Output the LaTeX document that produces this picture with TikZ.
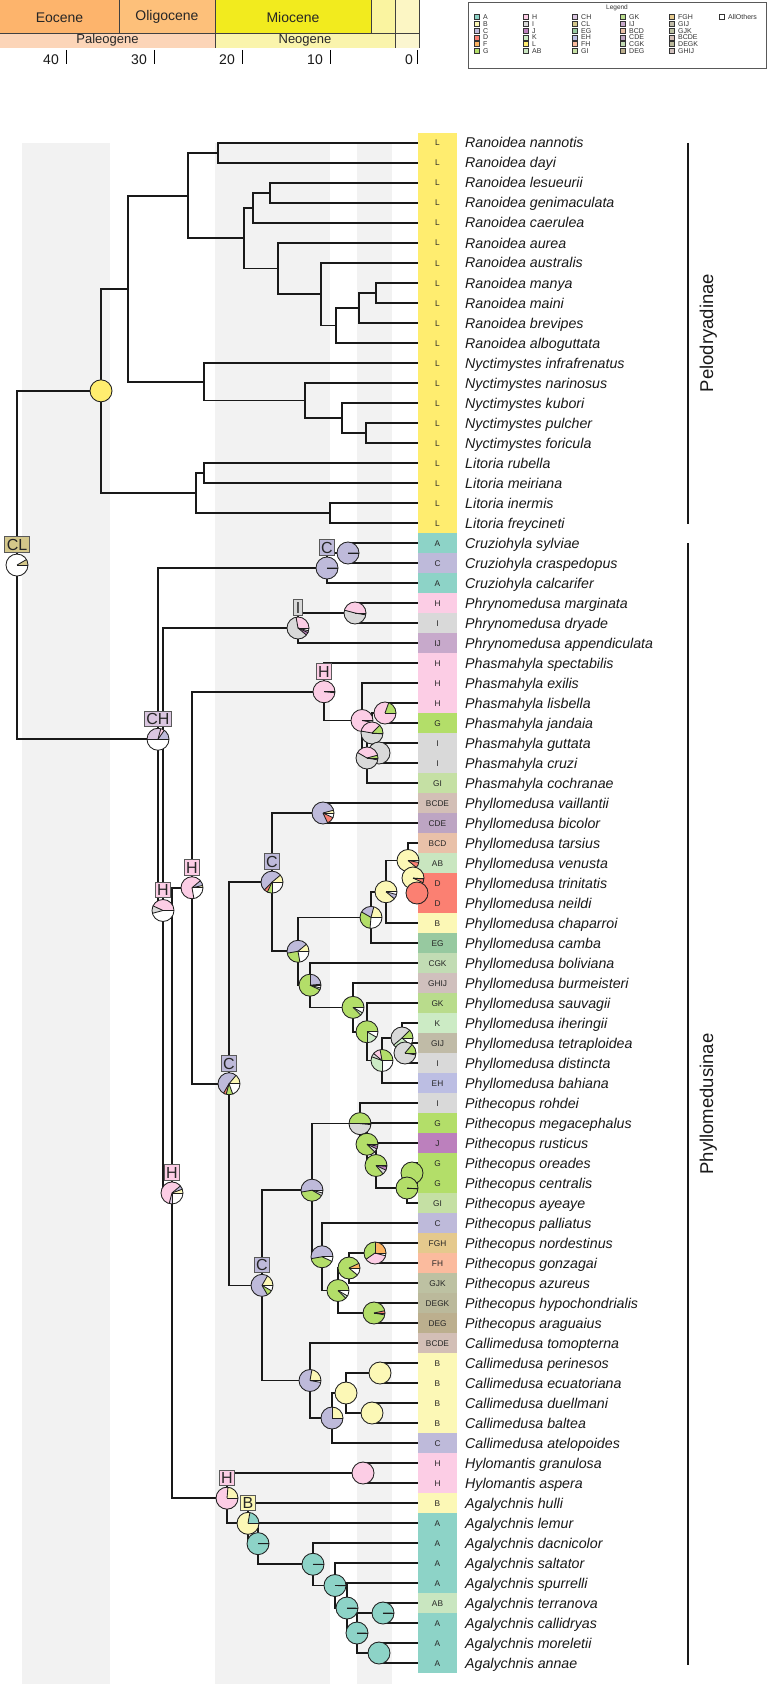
\documentclass[tikz,border=0pt]{standalone}
\usepackage{fontspec}
\setmainfont{Liberation Sans}
\usetikzlibrary{calc}
\definecolor{cA}{HTML}{8DD3C7}
\definecolor{cB}{HTML}{FCF8B6}
\definecolor{cC}{HTML}{BEBADA}
\definecolor{cD}{HTML}{FB8072}
\definecolor{cF}{HTML}{FDB462}
\definecolor{cG}{HTML}{B3DE69}
\definecolor{cH}{HTML}{FCCDE5}
\definecolor{cI}{HTML}{D9D9D9}
\definecolor{cJ}{HTML}{BC80BD}
\definecolor{cK}{HTML}{CCEBC5}
\definecolor{cL}{HTML}{FFED6F}
\definecolor{cAB}{HTML}{C9E6C0}
\definecolor{cCH}{HTML}{DAC6E0}
\definecolor{cCL}{HTML}{D4C78A}
\definecolor{cEG}{HTML}{97C9A0}
\definecolor{cEH}{HTML}{BCBEE3}
\definecolor{cFH}{HTML}{FBBB9E}
\definecolor{cGI}{HTML}{C5E0A4}
\definecolor{cGK}{HTML}{B9DC8C}
\definecolor{cIJ}{HTML}{C7A9CB}
\definecolor{cBCD}{HTML}{E9C1A9}
\definecolor{cCDE}{HTML}{BDA5C3}
\definecolor{cCGK}{HTML}{C2DCB4}
\definecolor{cDEG}{HTML}{BCAF8E}
\definecolor{cFGH}{HTML}{E5C98D}
\definecolor{cGIJ}{HTML}{C0BBA7}
\definecolor{cGJK}{HTML}{BDC1A2}
\definecolor{cBCDE}{HTML}{D3BFB6}
\definecolor{cDEGK}{HTML}{BBB99B}
\definecolor{cGHIJ}{HTML}{D0C0BD}
\colorlet{cAllOthers}{white}
\definecolor{bandgrey}{HTML}{F2F2F2}
\definecolor{cEoc}{HTML}{FDB46C}
\definecolor{cOli}{HTML}{FDC07A}
\definecolor{cMio}{HTML}{F2EB1E}
\definecolor{cPli}{HTML}{FAF4A0}
\definecolor{cPle}{HTML}{FCF6C4}
\definecolor{cPal}{HTML}{FCD5B8}
\definecolor{cNeo}{HTML}{FAF4AC}
\definecolor{cQua}{HTML}{FBF6D0}
\tikzset{
  branch/.style={line width=1.7pt, draw=black!90},
  pieline/.style={line width=0.85pt, draw=black!88},
  lab/.style={draw=black!65, line width=0.8pt, inner sep=2pt, text height=11.5pt, text depth=0pt, font=\fontsize{16}{16}\selectfont, text=black!85},
  tipbox/.style={minimum width=39pt, minimum height=20.3pt, inner sep=0pt, text height=6pt, text depth=0pt, font=\fontsize{8.3}{8}\selectfont, text=black!85},
  spname/.style={anchor=base west, inner sep=0pt, font=\fontsize{14.2}{16}\selectfont\itshape, text=black!90},
  cladebar/.style={line width=1.8pt, draw=black!90},
  cladelab/.style={anchor=base, rotate=90, inner sep=0pt, font=\fontsize{18.5}{20}\selectfont, text=black!90},
  epoch/.style={inner sep=0pt, font=\fontsize{14}{16}\selectfont, text=black!85},
  period/.style={inner sep=0pt, font=\fontsize{13}{15}\selectfont, text=black!85},
  tslab/.style={anchor=base east, inner sep=0pt, font=\fontsize{14}{16}\selectfont, text=black!90},
  tsline/.style={line width=0.8pt, draw=black!75},
  legsq/.style={draw=black!80, line width=0.6pt, minimum size=5pt, inner sep=0pt},
  legtx/.style={anchor=west, inner sep=0pt, font=\fontsize{7}{8}\selectfont, text=black!80},
}
\newif\ifpiemulti
\def\pr{11pt}
\newcommand\mypie[2]{%
  \gdef\pstart{0}%
  \global\piemultifalse
  \foreach \pe/\pc in {#2}{%
    \fill[\pc] (#1) -- ++(\pstart:\pr) arc[start angle=\pstart,end angle=\pe,radius=\pr] -- cycle;
    \xdef\pstart{\pe}%
  }%
  \foreach \pe/\pc in {#2}{%
    \ifdim\pe pt<359.9pt
      \draw[pieline] (#1) -- ++(\pe:\pr);
      \global\piemultitrue
    \fi
  }%
  \ifpiemulti \draw[pieline] (#1) -- ++(0:\pr);\fi
  \draw[pieline] (#1) circle[radius=\pr];
}
\newcommand\mknode[4]{%
  \path let \p1=($(#3)!.5!(#4)$), \p2=(#2,0) in (\x2,\y1) coordinate (#1);
  \draw[branch] (#1) |- (#3);
  \draw[branch] (#1) |- (#4);
}
\begin{document}
\begin{tikzpicture}[x=1pt,y=-1pt]
\useasboundingbox (0,0) rectangle (767,1688);
\fill[white] (0,0) rectangle (767,1688);
% background bands
\fill[bandgrey] (22,143) rectangle (110,1684);
\fill[bandgrey] (215,143) rectangle (330,1684);
\fill[bandgrey] (357,143) rectangle (392,1684);
% timescale
\fill[cEoc] (0,0) rectangle (119,33);
\fill[cOli] (119,0) rectangle (215,33);
\fill[cMio] (215,0) rectangle (371,33);
\fill[cPli] (371,0) rectangle (395,33);
\fill[cPle] (395,0) rectangle (419,33);
\fill[cPal] (0,33) rectangle (215,48);
\fill[cNeo] (215,33) rectangle (395,48);
\fill[cQua] (395,33) rectangle (419,48);
\draw[tsline] (0,33) -- (419,33);
\draw[tsline] (119,0) -- (119,33);
\draw[tsline] (215,0) -- (215,48);
\draw[tsline] (371,0) -- (371,33);
\draw[tsline] (395,0) -- (395,48);
\draw[tsline] (419,0) -- (419,48);
\node[epoch] (eoc) at (59.5,17.5) {Eocene};
\node[epoch] (oli) at (167,16.5) {Oligocene};
\node[epoch] (mio) at (293,17.5) {Miocene};
\node[period] (pal) at (107.5,40.5) {Paleogene};
\node[period] (neo) at (305,40.5) {Neogene};
\foreach \tx/\tl in {66/40,154/30,242/20,330/10} {
  \draw[line width=1pt] (\tx,50) -- (\tx,64);
  \node[tslab] (tl\tl) at (\tx-7,65) {\tl};
}
\draw[line width=1pt] (417,50) -- (417,64);
\node[tslab] (tl0) at (413,65) {0};
% legend
\draw[draw=black!65, line width=0.9pt, fill=white] (468,2) rectangle (766,68);
\node[inner sep=0pt, font=\fontsize{6.5}{7}\selectfont, text=black!80] (legtitle) at (617,7.5) {Legend};
\foreach \lx/\k/\s in {477/0/A,477/1/B,477/2/C,477/3/D,477/4/F,477/5/G,
  526/0/H,526/1/I,526/2/J,526/3/K,526/4/L,526/5/AB,
  575/0/CH,575/1/CL,575/2/EG,575/3/EH,575/4/FH,575/5/GI,
  623/0/GK,623/1/IJ,623/2/BCD,623/3/CDE,623/4/CGK,623/5/DEG,
  672/0/FGH,672/1/GIJ,672/2/GJK,672/3/BCDE,672/4/DEGK,672/5/GHIJ,
  722/0/AllOthers} {
  \node[legsq, fill=c\s] (lq\s) at (\lx,{17.3+6.68*\k}) {};
  \node[legtx] (lt\s) at (\lx+6,{17.3+6.68*\k}) {\s};
}
% tips
\foreach \i/\st/\nm in {1/L/Ranoidea nannotis,2/L/Ranoidea dayi,3/L/Ranoidea lesueurii,4/L/Ranoidea genimaculata,5/L/Ranoidea caerulea,6/L/Ranoidea aurea,7/L/Ranoidea australis,8/L/Ranoidea manya,9/L/Ranoidea maini,10/L/Ranoidea brevipes,11/L/Ranoidea alboguttata,12/L/Nyctimystes infrafrenatus,13/L/Nyctimystes narinosus,14/L/Nyctimystes kubori,15/L/Nyctimystes pulcher,16/L/Nyctimystes foricula,17/L/Litoria rubella,18/L/Litoria meiriana,19/L/Litoria inermis,20/L/Litoria freycineti,21/A/Cruziohyla sylviae,22/C/Cruziohyla craspedopus,23/A/Cruziohyla calcarifer,24/H/Phrynomedusa marginata,25/I/Phrynomedusa dryade,26/IJ/Phrynomedusa appendiculata,27/H/Phasmahyla spectabilis,28/H/Phasmahyla exilis,29/H/Phasmahyla lisbella,30/G/Phasmahyla jandaia,31/I/Phasmahyla guttata,32/I/Phasmahyla cruzi,33/GI/Phasmahyla cochranae,34/BCDE/Phyllomedusa vaillantii,35/CDE/Phyllomedusa bicolor,36/BCD/Phyllomedusa tarsius,37/AB/Phyllomedusa venusta,38/D/Phyllomedusa trinitatis,39/D/Phyllomedusa neildi,40/B/Phyllomedusa chaparroi,41/EG/Phyllomedusa camba,42/CGK/Phyllomedusa boliviana,43/GHIJ/Phyllomedusa burmeisteri,44/GK/Phyllomedusa sauvagii,45/K/Phyllomedusa iheringii,46/GIJ/Phyllomedusa tetraploidea,47/I/Phyllomedusa distincta,48/EH/Phyllomedusa bahiana,49/I/Pithecopus rohdei,50/G/Pithecopus megacephalus,51/J/Pithecopus rusticus,52/G/Pithecopus oreades,53/G/Pithecopus centralis,54/GI/Pithecopus ayeaye,55/C/Pithecopus palliatus,56/FGH/Pithecopus nordestinus,57/FH/Pithecopus gonzagai,58/GJK/Pithecopus azureus,59/DEGK/Pithecopus hypochondrialis,60/DEG/Pithecopus araguaius,61/BCDE/Callimedusa tomopterna,62/B/Callimedusa perinesos,63/B/Callimedusa ecuatoriana,64/B/Callimedusa duellmani,65/B/Callimedusa baltea,66/C/Callimedusa atelopoides,67/H/Hylomantis granulosa,68/H/Hylomantis aspera,69/B/Agalychnis hulli,70/A/Agalychnis lemur,71/A/Agalychnis dacnicolor,72/A/Agalychnis saltator,73/A/Agalychnis spurrelli,74/AB/Agalychnis terranova,75/A/Agalychnis callidryas,76/A/Agalychnis moreletii,77/A/Agalychnis annae} {
  \pgfmathsetmacro\ty{143+20*(\i-1)}
  \coordinate (t\i) at (418,\ty);
  \node[tipbox, fill=c\st] (b\i) at (437.5,\ty) {\st};
  \node[spname] (s\i) at (465,{\ty+5}) {\nm};
}
% Pelodryadinae
\mknode{r1}{218}{t1}{t2}
\mknode{r2}{270}{t3}{t4}
\mknode{r3}{253}{r2}{t5}
\mknode{r4}{376}{t8}{t9}
\mknode{r5}{359}{r4}{t10}
\mknode{r6}{336}{r5}{t11}
\mknode{r7}{321}{t7}{r6}
\mknode{r8}{278}{t6}{r7}
\mknode{r9}{244}{r3}{r8}
\mknode{r10}{188}{r1}{r9}
\mknode{n1}{366}{t15}{t16}
\mknode{n2}{342}{t14}{n1}
\mknode{n3}{305}{t13}{n2}
\mknode{n4}{204}{t12}{n3}
\mknode{p1}{128}{r10}{n4}
\mknode{l1}{204}{t17}{t18}
\mknode{l2}{330}{t19}{t20}
\mknode{l3}{196}{l1}{l2}
\mknode{pel}{101}{p1}{l3}
% Phyllomedusinae
\mknode{cru1}{348}{t21}{t22}
\mknode{cru}{327}{cru1}{t23}
\mknode{phr1}{355}{t24}{t25}
\mknode{phr}{298}{phr1}{t26}
\mknode{phas1}{385}{t29}{t30}
\mknode{phas2}{379}{t31}{t32}
\mknode{phas3}{372}{phas1}{phas2}
\mknode{phas4}{367}{phas3}{t33}
\mknode{phas5}{362}{t28}{phas4}
\mknode{phas}{324}{t27}{phas5}
\mknode{phy1}{323}{t34}{t35}
\mknode{phy7}{417}{t38}{t39}
\mknode{phy6}{413}{t37}{phy7}
\mknode{phy5}{408}{t36}{phy6}
\mknode{phy4}{386}{phy5}{t40}
\mknode{phy3}{371}{phy4}{t41}
\mknode{phy13}{405}{t46}{t47}
\mknode{phy12}{402}{t45}{phy13}
\mknode{phy11}{382}{phy12}{t48}
\mknode{phy10}{367}{t44}{phy11}
\mknode{phy9}{353}{t43}{phy10}
\mknode{phy8}{310}{t42}{phy9}
\mknode{phy2}{298}{phy3}{phy8}
\mknode{phy}{272}{phy1}{phy2}
\mknode{pith5}{412}{t52}{t53}
\mknode{pith4}{407}{pith5}{t54}
\mknode{pith3}{376}{t51}{pith4}
\mknode{pith2}{367}{t50}{pith3}
\mknode{pith1}{360}{t49}{pith2}
\mknode{pith9}{375}{t56}{t57}
\mknode{pith8}{349}{pith9}{t58}
\mknode{pith10}{374}{t59}{t60}
\mknode{pith7}{338}{pith8}{pith10}
\mknode{pith6}{322}{t55}{pith7}
\mknode{pith}{312}{pith1}{pith6}
\mknode{cal3}{380}{t62}{t63}
\mknode{cal4}{372}{t64}{t65}
\mknode{cal2}{346}{cal3}{cal4}
\mknode{cal1}{332}{cal2}{t66}
\mknode{cal}{310}{t61}{cal1}
\mknode{pc}{262}{pith}{cal}
\mknode{n229}{229}{phy}{pc}
\mknode{n192}{192}{phas}{n229}
\mknode{hyl}{363}{t67}{t68}
\mknode{ag6}{383}{t74}{t75}
\mknode{ag7}{379}{t76}{t77}
\mknode{ag5}{357}{ag6}{ag7}
\mknode{ag4}{347}{t73}{ag5}
\mknode{ag3}{335}{t72}{ag4}
\mknode{ag2}{313}{t71}{ag3}
\mknode{ag1}{258}{t70}{ag2}
\mknode{ag}{248}{t69}{ag1}
\mknode{hylag}{227}{hyl}{ag}
\mknode{h2}{172}{n192}{hylag}
\mknode{h1}{163}{phr}{h2}
\mknode{ch}{158}{cru}{h1}
\mknode{root}{17}{pel}{ch}
% clade bars
\coordinate (pelA) at (688,143);
\coordinate (pelB) at (688,524);
\coordinate (phyA) at (688,543);
\coordinate (phyB) at (688,1665);
\draw[cladebar] (pelA) -- (pelB);
\draw[cladebar] (phyA) -- (phyB);
\node[cladelab] (pellab) at (713,333) {Pelodryadinae};
\node[cladelab] (phylab) at (713,1104) {Phyllomedusinae};
% pies
\mypie{root}{30/cCL,360/white}
\mypie{pel}{360/cL}
\mypie{ch}{55/cC,75/cH,180/cCH,360/white}
\mypie{cru}{359/cC,360/white}
\mypie{cru1}{359/cC,360/white}
\mypie{phr}{100/cH,320/cI,335/cJ,345/cIJ,360/white}
\mypie{phr1}{165/cH,350/cI,360/white}
\mypie{phas}{355/cH,360/white}
\mypie{phas5}{350/cH,360/white}
\mypie{phas1}{70/cG,360/cH}
\mypie{phas3}{45/cG,170/cH,355/cI,360/white}
\mypie{phas2}{360/cI}
\mypie{phas4}{15/cG,150/cH,350/cI,360/white}
\mypie{h1}{155/cH,195/cI,360/white}
\mypie{n192}{12/cB,40/cC,280/cH,360/white}
\mypie{h2}{20/cB,40/cC,255/cH,270/cCH,360/white}
\mypie{phy}{40/cB,225/cC,245/cD,270/cG,360/white}
\mypie{phy1}{15/cB,295/cC,335/cD,360/white}
\mypie{phy2}{40/cB,190/cC,280/cG,360/white}
\mypie{phy3}{75/cB,150/cC,265/cG,360/white}
\mypie{phy4}{320/cB,345/cC,360/white}
\mypie{phy5}{320/cB,350/cD,360/white}
\mypie{phy6}{335/cB,355/cD,360/white}
\mypie{phy7}{360/cD}
\mypie{phy8}{5/cB,90/cC,335/cG,345/cK,360/white}
\mypie{phy9}{315/cG,330/cK,360/white}
\mypie{phy10}{270/cG,330/cK,360/white}
\mypie{phy11}{100/cG,140/cH,160/cI,270/cK,360/white}
\mypie{phy12}{45/cG,220/cI,320/cK,360/white}
\mypie{phy13}{50/cG,350/cI,360/white}
\mypie{n229}{50/cB,240/cC,255/cD,290/cG,360/white}
\mypie{pc}{60/cB,300/cC,330/cG,360/white}
\mypie{pith}{190/cC,330/cG,345/cI,360/white}
\mypie{pith1}{180/cG,355/cI,360/white}
\mypie{pith2}{315/cG,335/cI,350/cJ,360/white}
\mypie{pith3}{310/cG,335/cI,355/cJ,360/white}
\mypie{pith5}{360/cG}
\mypie{pith4}{355/cG,360/white}
\mypie{pith6}{190/cC,335/cG,360/white}
\mypie{pith7}{315/cG,330/cK,360/white}
\mypie{pith8}{25/cF,320/cG,360/white}
\mypie{pith9}{90/cF,215/cG,345/cH,360/white}
\mypie{pith10}{12/cD,350/cG,360/white}
\mypie{cal}{80/cB,350/cC,360/white}
\mypie{cal1}{90/cB,360/cC}
\mypie{cal2}{360/cB}
\mypie{cal3}{360/cB}
\mypie{cal4}{360/cB}
\mypie{hyl}{360/cH}
\mypie{hylag}{85/cB,360/cH}
\mypie{ag}{80/cA,360/cB}
\mypie{ag1}{359/cA,360/white}
\mypie{ag2}{359/cA,360/white}
\mypie{ag3}{359/cA,360/white}
\mypie{ag4}{359/cA,360/white}
\mypie{ag5}{359/cA,360/white}
\mypie{ag6}{359/cA,360/white}
\mypie{ag7}{360/cA}
% state labels
\foreach \nn/\ss in {root/CL,ch/CH,cru/C,phr/I,phas/H,h1/H,n192/H,phy/C,n229/C,h2/H,pc/C,hylag/H,ag/B} {
  \node[lab, fill=c\ss] (lab\nn) at ($(\nn)+(0,-20.5)$) {\ss};
}
\end{tikzpicture}
\end{document}
